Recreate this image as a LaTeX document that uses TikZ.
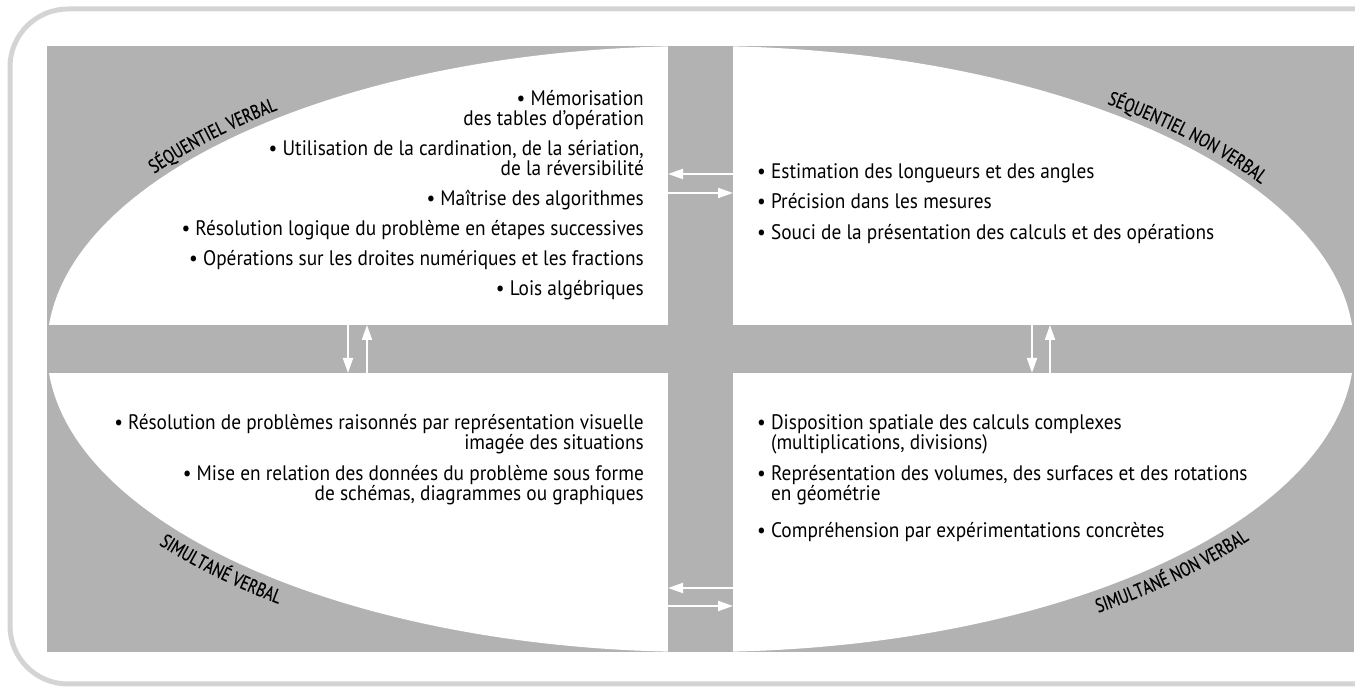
\documentclass[tikz,border=0pt]{standalone}
\usepackage{fontspec}
\setmainfont{PT Sans}[FakeStretch=0.92]
\newfontfamily\labelfamily{PT Sans}[FakeStretch=0.78, FakeBold=0.5]
\usepackage{tikz}
\usetikzlibrary{arrows.meta, positioning, calc, decorations.text}
\definecolor{framegray}{gray}{0.83}
\definecolor{panelgray}{gray}{0.70}
\newcommand{\quadlabel}{\labelfamily\fontsize{19.5}{20}\selectfont}
\tikzset{
    frame/.style={draw=framegray, line width=5pt, rounded corners=58pt},
    flow/.style={-{Triangle[length=15pt, width=10pt]}, white, line width=2pt},
    itemsleft/.style={align=right, inner sep=0pt, font=\fontsize{21}{20}\selectfont},
    itemsright/.style={align=left, inner sep=0pt, font=\fontsize{21}{20}\selectfont},
    curved/.style={decorate, decoration={text along path, text align=center, text={#1}}}
}

\begin{document}
\begin{tikzpicture}[x=1pt, y=1pt]
    \useasboundingbox (0,0) rectangle (1355,687);
    \clip (0,0) rectangle (1355,687);
    % outer frame, open on the right
    \draw[frame] (10,3) rectangle (1420,678);
    % grey panel, white ellipse, grey cross
    \fill[panelgray] (47,35) rectangle (1354,641);
    \fill[white] (700.5,338) ellipse [x radius=653.5, y radius=303];
    \fill[panelgray] (668,35) rectangle (733,641);
    \fill[panelgray] (47,314) rectangle (1354,362);

    % arrow ends in the bars
    \foreach \y/\n in {513/a, 494/b, 99/c, 81/d} {
        \coordinate (vl-\n) at (668,\y);
        \coordinate (vr-\n) at (733,\y);
    }
    \foreach \x/\n in {348/a, 367/b, 1032/c, 1050/d} {
        \coordinate (ht-\n) at (\x,362);
        \coordinate (hb-\n) at (\x,314);
    }
    \draw[flow] (vr-a) -- (vl-a);
    \draw[flow] (vl-b) -- (vr-b);
    \draw[flow] (vr-c) -- (vl-c);
    \draw[flow] (vl-d) -- (vr-d);
    \draw[flow] (ht-a) -- (hb-a);
    \draw[flow] (hb-b) -- (ht-b);
    \draw[flow] (ht-c) -- (hb-c);
    \draw[flow] (hb-d) -- (ht-d);

    % the four quarters
    \node[itemsleft, anchor=north east] (seqverb) at (644,597) {%
        \textbullet{} Mémorisation\\
        des tables d’opération\\[10pt]
        \textbullet{} Utilisation de la cardination, de la sériation,\\
        de la réversibilité\\[10pt]
        \textbullet{} Maîtrise des algorithmes\\[10pt]
        \textbullet{} Résolution logique du problème en étapes successives\\[10pt]
        \textbullet{} Opérations sur les droites numériques et les fractions\\[10pt]
        \textbullet{} Lois algébriques};
    \node[itemsright, anchor=north west] (seqnonverb) at (757,524) {%
        \textbullet{} Estimation des longueurs et des angles\\[10.5pt]
        \textbullet{} Précision dans les mesures\\[10.5pt]
        \textbullet{} Souci de la présentation des calculs et des opérations};
    \node[itemsleft, anchor=north east] (simverb) at (644,273) {%
        \textbullet{} Résolution de problèmes raisonnés par représentation visuelle\\
        imagée des situations\\[11pt]
        \textbullet{} Mise en relation des données du problème sous forme\\
        de schémas, diagrammes ou graphiques};
    \node[itemsright, anchor=north west] (simnonverb) at (757,273) {%
        \textbullet{} Disposition spatiale des calculs complexes\\
        \hphantom{\textbullet{} }(multiplications, divisions)\\[11pt]
        \textbullet{} Représentation des volumes, des surfaces et des rotations\\
        \hphantom{\textbullet{} }en géométrie\\[17pt]
        \textbullet{} Compréhension par expérimentations concrètes};

    % curved titles along the ellipse
    \begin{scope}
        \quadlabel
        \path[curved={SÉQUENTIEL VERBAL}] (700.5,338) ++(166:661 and 311)
            arc[start angle=166, end angle=116, x radius=661, y radius=311];
        \path[curved={SÉQUENTIEL NON VERBAL}] (700.5,338) ++(64:661 and 311)
            arc[start angle=64, end angle=14, x radius=661, y radius=311];
        \path[curved={SIMULTANÉ VERBAL}] (700.5,338) ++(196:677 and 326)
            arc[start angle=196, end angle=246, x radius=677, y radius=326];
        \path[curved={SIMULTANÉ NON VERBAL}] (700.5,338) ++(293:677 and 326)
            arc[start angle=293, end angle=343, x radius=677, y radius=326];
    \end{scope}
\end{tikzpicture}
\end{document}
